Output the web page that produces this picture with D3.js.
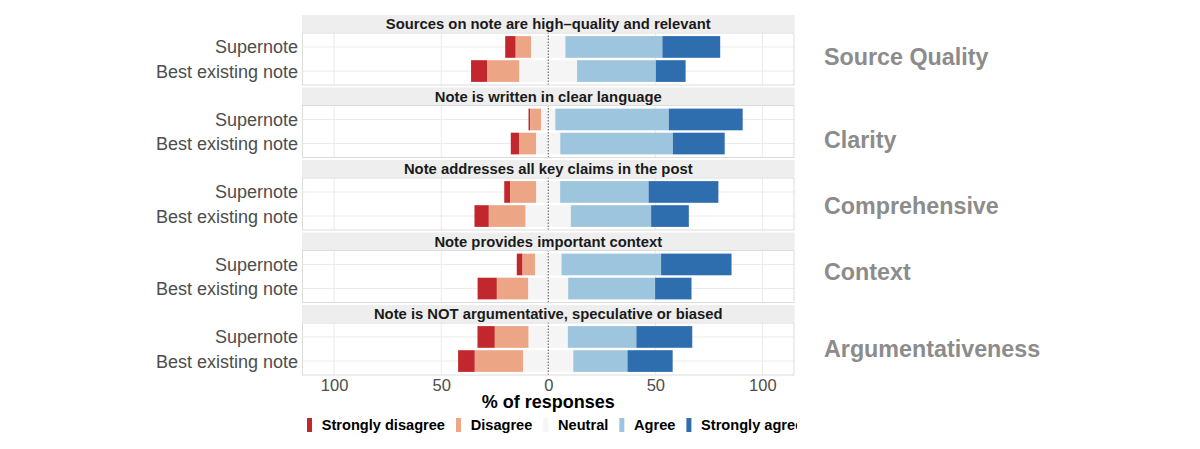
<!DOCTYPE html>
<html lang="en">
<head>
<meta charset="utf-8">
<title>Supernote vs best existing note</title>
<script src="https://cdn.jsdelivr.net/npm/d3@7"></script>
<style>
  body { margin: 0; background: #fff; }
  svg { display: block; font-family: "Liberation Sans", Arial, Helvetica, sans-serif; }
</style>
</head>
<body>
<script>
// facets, top to bottom
var facetTitles = [
  "Sources on note are high\u2013quality and relevant",
  "Note is written in clear language",
  "Note addresses all key claims in the post",
  "Note provides important context",
  "Note is NOT argumentative, speculative or biased"
];
var sideLabels = ["Source Quality", "Clarity", "Comprehensive", "Context", "Argumentativeness"];
var groups = ["Supernote", "Best existing note"];
var levels = ["Strongly disagree", "Disagree", "Neutral", "Agree", "Strongly agree"];
var levelColors = ["#c1272d", "#eca585", "#f5f5f5", "#9ec5de", "#2e6dae"];

// % of responses, [Supernote, Best existing note] per facet
var stronglyDisagree = [[4.9, 7.5], [0.8, 3.9], [2.7, 6.7], [2.7, 9.0], [8.1, 7.8]];
var disagree         = [[7.2, 15.1], [5.1, 8.0], [12.3, 17.2], [5.8, 14.7], [15.8, 22.6]];
var neutral          = [[16.0, 26.9], [6.6, 11.2], [11.1, 21.1], [12.4, 18.6], [18.3, 23.4]];
var agree            = [[45.3, 36.8], [53.0, 52.6], [41.3, 37.5], [46.5, 40.6], [32.0, 25.3]];
var stronglyAgree    = [[27.0, 13.9], [34.5, 24.2], [32.6, 17.6], [32.9, 17.0], [26.1, 21.1]];

var tickValues = [-100, -50, 0, 50, 100];

var W = 1200, H = 449;
var left = 302, right = 794.5;
var firstTop = 15, period = 72.5, stripH = 17.5, bodyH = 53;
var sideLabelBase = [65, 147.5, 214, 280, 356.5];

var svg = d3.select("body").append("svg")
  .attr("width", W)
  .attr("height", H);

var x = d3.scaleLinear().domain([-115, 115]).range([left, right]);
var y = d3.scaleBand().domain(groups).range([0, bodyH])
  .paddingInner(0.1).paddingOuter(0.15);
var color = d3.scaleOrdinal().domain(levels).range(levelColors);

var series = [stronglyDisagree, disagree, neutral, agree, stronglyAgree];

// build segments for one facet/group: diverging around 0, neutral centred
function segments(f, g) {
  var v = series.map(function(s) { return s[f][g]; });
  var start = -(v[0] + v[1] + v[2] / 2);
  var out = [];
  v.forEach(function(val, i) {
    out.push({ level: levels[i], x0: start, x1: start + val });
    start += val;
  });
  return out;
}

facetTitles.forEach(function(title, f) {
  var top = firstTop + f * period;
  var g = svg.append("g").attr("transform", "translate(0," + top + ")");

  // strip
  g.append("rect")
    .attr("x", left).attr("y", 0)
    .attr("width", right - left).attr("height", stripH)
    .attr("fill", "#eeeeee");
  g.append("text")
    .attr("x", (left + right) / 2).attr("y", 14)
    .attr("text-anchor", "middle")
    .attr("font-size", "14.8px").attr("font-weight", "bold")
    .attr("fill", "#1a1a1a")
    .text(title);

  var body = g.append("g").attr("transform", "translate(0," + stripH + ")");
  body.append("rect")
    .attr("x", left).attr("y", 0)
    .attr("width", right - left).attr("height", bodyH)
    .attr("fill", "#fff");

  // grid
  body.selectAll(".vgrid")
    .data(tickValues.filter(function(t) { return t !== 0; }))
    .enter().append("line")
    .attr("x1", function(d) { return x(d); }).attr("x2", function(d) { return x(d); })
    .attr("y1", 0).attr("y2", bodyH)
    .attr("stroke", "#ebebeb").attr("stroke-width", 1);
  body.selectAll(".hgrid")
    .data(groups)
    .enter().append("line")
    .attr("x1", left).attr("x2", right)
    .attr("y1", function(d) { return y(d) + y.bandwidth() / 2; })
    .attr("y2", function(d) { return y(d) + y.bandwidth() / 2; })
    .attr("stroke", "#ebebeb").attr("stroke-width", 1);

  // bars
  groups.forEach(function(grp, gi) {
    body.selectAll(".bar" + gi)
      .data(segments(f, gi))
      .enter().append("rect")
      .attr("x", function(d) { return x(d.x0); })
      .attr("width", function(d) { return x(d.x1) - x(d.x0); })
      .attr("y", y(grp))
      .attr("height", y.bandwidth())
      .attr("fill", function(d) { return color(d.level); });

    // group label on the left
    g.append("text")
      .attr("x", left - 4)
      .attr("y", stripH + y(grp) + y.bandwidth() / 2)
      .attr("dy", "0.36em")
      .attr("text-anchor", "end")
      .attr("font-size", "18px")
      .attr("fill", "#4d4d4d")
      .text(grp);
  });

  // zero line
  body.append("line")
    .attr("x1", x(0)).attr("x2", x(0))
    .attr("y1", 0).attr("y2", bodyH)
    .attr("stroke", "#555").attr("stroke-width", 1)
    .attr("stroke-dasharray", "1.5,1.5");

  // border
  body.append("rect")
    .attr("x", left + 0.5).attr("y", 0.5)
    .attr("width", right - left - 1).attr("height", bodyH - 1)
    .attr("fill", "none").attr("stroke", "#dcdcdc");

  // side annotation
  svg.append("text")
    .attr("x", 824).attr("y", sideLabelBase[f])
    .attr("font-size", "23.3px").attr("font-weight", "bold")
    .attr("fill", "#8c8c8c")
    .text(sideLabels[f]);
});

// x axis
var axisY = 390.7;
var axis = svg.append("g")
  .attr("transform", "translate(0," + axisY + ")")
  .call(d3.axisBottom(x).tickValues(tickValues).tickSize(0)
    .tickFormat(function(d) { return Math.abs(d); }));
axis.select(".domain").remove();
axis.selectAll("text")
  .attr("y", 0).attr("dy", null)
  .attr("font-size", "16.5px")
  .attr("font-family", "Liberation Sans, Arial, Helvetica, sans-serif")
  .attr("fill", "#4d4d4d");

svg.append("text")
  .attr("x", x(0)).attr("y", 407.5)
  .attr("text-anchor", "middle")
  .attr("font-size", "18px").attr("font-weight", "bold")
  .attr("fill", "#000")
  .text("% of responses");

// legend, clipped at the panel edge like the original
svg.append("clipPath").attr("id", "legclip")
  .append("rect").attr("x", 0).attr("y", 400).attr("width", 797).attr("height", 49);
var legend = svg.append("g").attr("clip-path", "url(#legclip)");
var lx = 307;
levels.forEach(function(lv) {
  legend.append("rect")
    .attr("x", lx).attr("y", 418)
    .attr("width", 5).attr("height", 14)
    .attr("fill", color(lv));
  var t = legend.append("text")
    .attr("x", lx + 14.7).attr("y", 430)
    .attr("font-size", "14.6px").attr("font-weight", "bold")
    .attr("fill", "#000")
    .text(lv);
  lx += 14.7 + t.node().getComputedTextLength() + 11;
});
</script>
</body>
</html>
